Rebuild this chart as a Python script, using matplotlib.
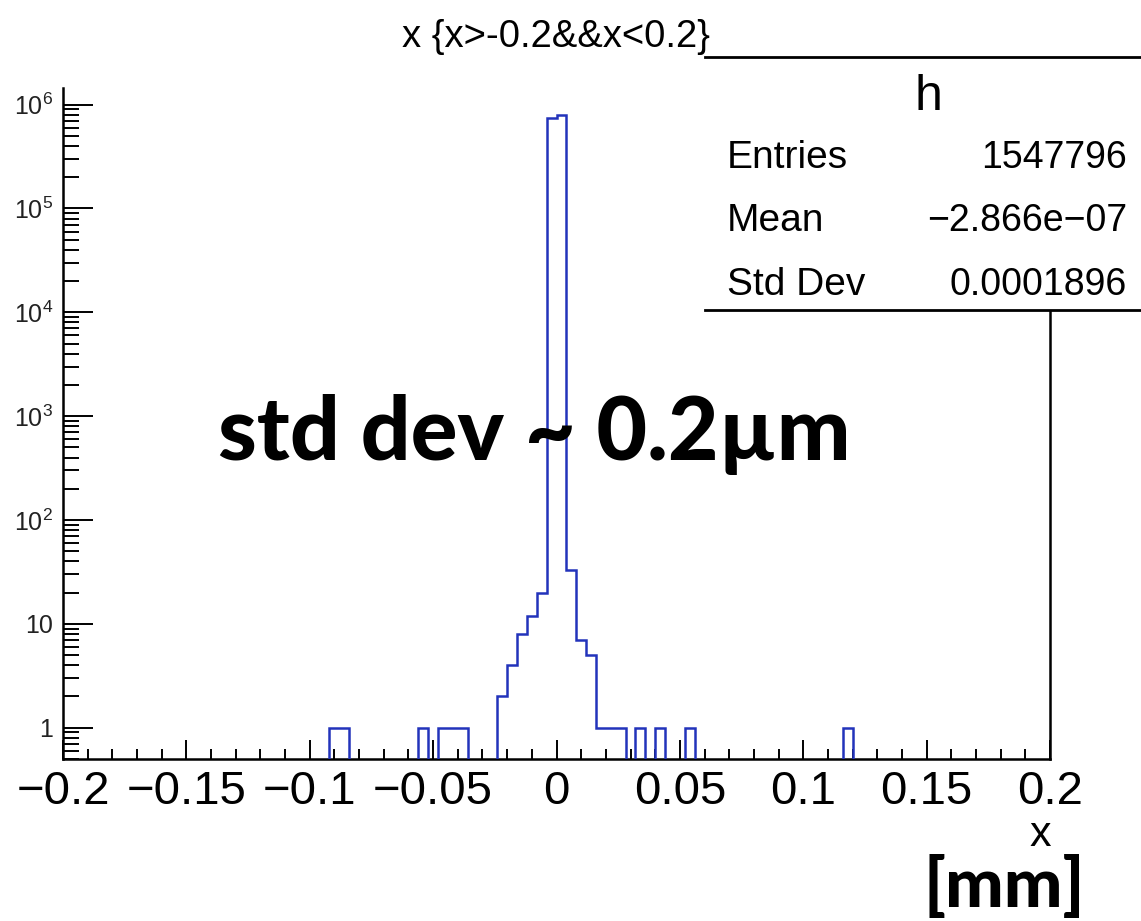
import numpy as np
import matplotlib
matplotlib.use('Agg')
import matplotlib.pyplot as plt
from matplotlib.ticker import FixedLocator, FixedFormatter, MultipleLocator, LogLocator, NullFormatter
from matplotlib.patches import Rectangle
from matplotlib.lines import Line2D

# ---------------- data ----------------
bin_centers = [-0.090, -0.086, -0.054, -0.046, -0.042, -0.038,
               -0.022, -0.018, -0.014, -0.010, -0.006, -0.002,
               0.002, 0.006, 0.010, 0.014, 0.018, 0.022, 0.026,
               0.034, 0.042, 0.054, 0.118]
bin_counts = [1, 1, 1, 1, 1, 1,
              2, 4, 8, 12, 20, 745370,
              802322, 33, 7, 5, 1, 1, 1,
              1, 1, 1, 1]
x_range = (-0.2, 0.2)
n_bins = 100

xtick_values = [-0.2, -0.15, -0.1, -0.05, 0, 0.05, 0.1, 0.15, 0.2]
xtick_labels = ['\u22120.2', '\u22120.15', '\u22120.1', '\u22120.05', '0', '0.05', '0.1', '0.15', '0.2']
ytick_values = [1, 10, 1e2, 1e3, 1e4, 1e5, 1e6]
ytick_labels = ['1', '10', r'$\mathregular{10^{2}}$', r'$\mathregular{10^{3}}$',
                r'$\mathregular{10^{4}}$', r'$\mathregular{10^{5}}$', r'$\mathregular{10^{6}}$']

title_text = 'x {x>-0.2&&x<0.2}'
stats_title = 'h'
stat_names = ['Entries', 'Mean', 'Std Dev']
stat_values = ['1547796', '\u22122.866e\u221207', '0.0001896']
x_axis_title = 'x'
annotation = 'std dev ~ 0.2\u00b5m'
unit_text = '[mm]'

# ---------------- style ----------------
plt.rcParams['font.family'] = ['Liberation Sans', 'DejaVu Sans']
plt.rcParams['mathtext.fontset'] = 'custom'
plt.rcParams['mathtext.rm'] = 'Liberation Sans'
plt.rcParams['axes.unicode_minus'] = True

W, H = 1141, 921
fig = plt.figure(figsize=(W / 100, H / 100), dpi=100)


def fx(px):
    return px / W


def fy(py):
    return 1 - py / H


ax = fig.add_axes([fx(63), fy(759), fx(1050) - fx(63), fy(88.5) - fy(759)])

edges = np.linspace(x_range[0], x_range[1], n_bins + 1)
hist, _ = np.histogram(bin_centers, bins=edges, weights=bin_counts)

ax.set_yscale('log')
ax.stairs(hist, edges, baseline=None, color='#2233bb', lw=1.8, zorder=3)
ax.set_xlim(*x_range)
ax.set_ylim(0.5, 1.43e6)

for side in ['left', 'bottom', 'right']:
    ax.spines[side].set_linewidth(1.8)
ax.spines['top'].set_visible(False)

ax.xaxis.set_major_locator(FixedLocator(xtick_values))
ax.xaxis.set_major_formatter(FixedFormatter(xtick_labels))
ax.xaxis.set_minor_locator(MultipleLocator(0.01))
ax.yaxis.set_major_locator(FixedLocator(ytick_values))
ax.yaxis.set_major_formatter(FixedFormatter(ytick_labels))
ax.yaxis.set_minor_locator(LogLocator(base=10, subs=np.arange(2, 10), numticks=20))
ax.yaxis.set_minor_formatter(NullFormatter())

ax.tick_params(axis='x', which='major', direction='in', length=13.7, width=1.4,
               labelsize=34, pad=8, top=False)
ax.tick_params(axis='x', which='minor', direction='in', length=7.5, width=1.4, top=False)
ax.tick_params(axis='y', which='major', direction='in', length=21.5, width=1.4,
               labelsize=18, pad=7, right=False, labelcolor='#222222')
ax.tick_params(axis='y', which='minor', direction='in', length=11.5, width=1.4, right=False)

# title
fig.text(fx(556), fy(37), title_text, ha='center', va='center', fontsize=27.5)

# x axis title
fig.text(fx(1051), fy(846), x_axis_title, ha='right', va='baseline', fontsize=31)

# stats box
fig.add_artist(Rectangle((fx(705), fy(310)), 1 - fx(705), fy(57) - fy(310),
                         transform=fig.transFigure, facecolor='white',
                         edgecolor='none', zorder=5))
fig.add_artist(Line2D([fx(705), 1], [fy(57), fy(57)], transform=fig.transFigure,
                      color='black', lw=2.0, zorder=6))
fig.add_artist(Line2D([fx(705), 1], [fy(310), fy(310)], transform=fig.transFigure,
                      color='black', lw=2.0, zorder=6))
fig.text(fx(928), fy(110), stats_title, ha='center', va='baseline', fontsize=36, zorder=7)
row_baselines = [168, 231, 295]
for name, val, yb in zip(stat_names, stat_values, row_baselines):
    fig.text(fx(727), fy(yb), name, ha='left', va='baseline', fontsize=28, zorder=7)
    fig.text(fx(1127), fy(yb), val, ha='right', va='baseline', fontsize=27, zorder=7)

# annotations
fig.text(fx(218), fy(460), annotation, ha='left', va='baseline', fontsize=63,
         fontweight='black', family=['Lato', 'DejaVu Sans'], zorder=1)
fig.text(fx(1085), fy(907), unit_text, ha='right', va='baseline', fontsize=50,
         fontweight='black', family=['Lato', 'DejaVu Sans'], zorder=1)

fig.savefig('out.png', dpi=100)
